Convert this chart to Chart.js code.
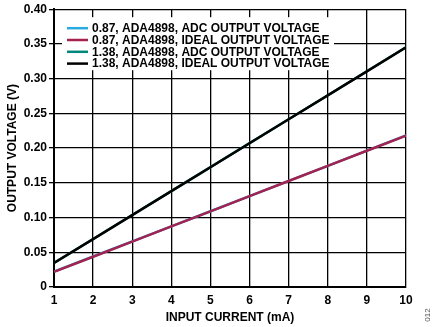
<!DOCTYPE html>
<html>
<head>
<meta charset="utf-8">
<script src="https://cdn.jsdelivr.net/npm/chart.js@4.4.1/dist/chart.umd.min.js"></script>
<style>
  html, body { margin: 0; padding: 0; background: #fff; }
  #wrap { width: 435px; height: 327px; position: relative; }
</style>
</head>
<body>
<div id="wrap"><canvas id="chart"></canvas></div>
<script>
// input current (mA)
const inputCurrent = [1, 2, 3, 4, 5, 6, 7, 8, 9, 10];

// output voltage (V) per configuration
const adc087 = [0.0222, 0.0439, 0.0656, 0.0873, 0.1091, 0.1309, 0.1527, 0.1745, 0.1963, 0.2181];
const ideal087 = [0.0218, 0.0436, 0.0654, 0.0872, 0.1090, 0.1308, 0.1526, 0.1744, 0.1962, 0.2180];
const adc138 = [0.0347, 0.0691, 0.1036, 0.1381, 0.1726, 0.2071, 0.2416, 0.2761, 0.3106, 0.3451];
const ideal138 = [0.0345, 0.0690, 0.1035, 0.1380, 0.1725, 0.2070, 0.2415, 0.2760, 0.3105, 0.3450];

const seriesLabels = [
    '0.87, ADA4898, ADC OUTPUT VOLTAGE',
    '0.87, ADA4898, IDEAL OUTPUT VOLTAGE',
    '1.38, ADA4898, ADC OUTPUT VOLTAGE',
    '1.38, ADA4898, IDEAL OUTPUT VOLTAGE'
];
const seriesColors = ['#29abe2', '#a3224f', '#00877a', '#000000'];
// ideal lines sit on top of the ADC lines
const drawOrder = [1, 0, 1, 0];

const FONT = '"Liberation Sans", Arial, sans-serif';

function toPoints(values) {
    return values.map((v, i) => ({ x: inputCurrent[i], y: v }));
}

// legend in a white box over the upper-left of the plot, plus the figure number
const boxedLegend = {
    id: 'boxedLegend',
    afterDraw(chart) {
        const { ctx, chartArea } = chart;
        const left = chartArea.left + 8;
        const top = chartArea.top + 8;
        ctx.save();
        ctx.fillStyle = '#fff';
        ctx.fillRect(left, top, 272, 53);
        ctx.font = 'bold 12px ' + FONT;
        ctx.textBaseline = 'middle';
        ctx.textAlign = 'left';
        chart.data.datasets.forEach((ds, i) => {
            const y = top + 11 + i * 11.8;
            ctx.strokeStyle = ds.borderColor;
            ctx.lineWidth = 2.5;
            ctx.beginPath();
            ctx.moveTo(left + 5, y);
            ctx.lineTo(left + 26, y);
            ctx.stroke();
            ctx.fillStyle = '#000';
            ctx.fillText(ds.label, left + 30, y + 0.5);
        });
        // figure number at the bottom right
        ctx.translate(428, 315);
        ctx.rotate(-Math.PI / 2);
        ctx.font = '8px ' + FONT;
        ctx.fillStyle = '#555';
        ctx.textAlign = 'center';
        ctx.fillText('012', 0, 0);
        ctx.restore();
    }
};

new Chart(document.getElementById('chart'), {
    type: 'line',
    data: {
        datasets: [adc087, ideal087, adc138, ideal138].map((vals, i) => ({
            label: seriesLabels[i],
            data: toPoints(vals),
            borderColor: seriesColors[i],
            backgroundColor: seriesColors[i],
            borderWidth: 2.5,
            pointRadius: 0,
            tension: 0,
            fill: false,
            order: drawOrder[i]
        }))
    },
    options: {
        responsive: true,
        maintainAspectRatio: false,
        animation: false,
        layout: { padding: { top: 7, right: 29, left: 0, bottom: 0 } },
        plugins: {
            legend: { display: false },
            tooltip: { enabled: false }
        },
        scales: {
            x: {
                type: 'linear',
                min: 1,
                max: 10,
                afterFit: (scale) => { scale.height = 40; },
                border: { color: '#000', width: 2 },
                grid: { color: '#000', lineWidth: 1.3, drawTicks: false },
                ticks: {
                    stepSize: 1,
                    padding: 6,
                    color: '#000',
                    font: { family: FONT, size: 12, weight: 'bold' }
                },
                title: {
                    display: true,
                    text: 'INPUT CURRENT (mA)',
                    color: '#000',
                    font: { family: FONT, size: 12, weight: 'bold' },
                    padding: { top: 4, bottom: 2 }
                }
            },
            y: {
                min: 0,
                max: 0.4,
                afterFit: (scale) => { scale.width = 54; },
                border: { color: '#000', width: 2 },
                grid: { color: '#000', lineWidth: 1.3, tickLength: 5 },
                ticks: {
                    stepSize: 0.05,
                    padding: 2,
                    color: '#000',
                    font: { family: FONT, size: 12, weight: 'bold' },
                    callback: (value) => value === 0 ? '0' : value.toFixed(2)
                },
                title: {
                    display: true,
                    text: 'OUTPUT VOLTAGE (V)',
                    color: '#000',
                    font: { family: FONT, size: 12, weight: 'bold' },
                    padding: { top: 5, bottom: 0 }
                }
            }
        }
    },
    plugins: [boxedLegend]
});
</script>
</body>
</html>
